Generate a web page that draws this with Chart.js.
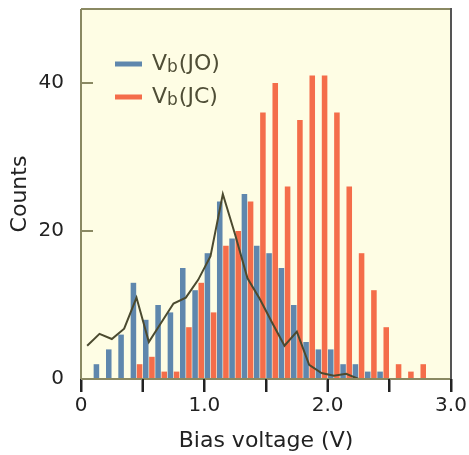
<!DOCTYPE html>
<html>
<head>
<meta charset="utf-8">
<script src="https://cdn.jsdelivr.net/npm/chart.js@4.4.0/dist/chart.umd.min.js"></script>
<style>
  html, body { margin: 0; padding: 0; background: #fff; }
  #wrap { width: 469px; height: 455px; }
</style>
</head>
<body>
<div id="wrap"><canvas id="myChart" width="469" height="455"></canvas></div>
<script>
// histogram bins, 0.1 V wide
const binCenters = [0.05, 0.15, 0.25, 0.35, 0.45, 0.55, 0.65, 0.75, 0.85, 0.95,
                    1.05, 1.15, 1.25, 1.35, 1.45, 1.55, 1.65, 1.75, 1.85, 1.95,
                    2.05, 2.15, 2.25, 2.35, 2.45, 2.55, 2.65, 2.75, 2.85, 2.95];
const joCounts = [0, 2, 4, 6, 13, 8, 10, 9, 15, 12,
                  17, 24, 19, 25, 18, 17, 15, 10, 5, 4,
                  4, 2, 2, 1, 1, 0, 0, 0, 0, 0];
const jcCounts = [0, 0, 0, 0, 2, 3, 1, 1, 7, 13,
                  9, 18, 20, 24, 36, 40, 26, 35, 41, 41,
                  36, 26, 17, 12, 7, 2, 1, 2, 0, 0];

// simulated distribution drawn as a line
const simX = [0.05, 0.15, 0.25, 0.35, 0.45, 0.55, 0.65, 0.75, 0.85, 0.95, 1.05, 1.15,
              1.25, 1.35, 1.45, 1.55, 1.65, 1.75, 1.85, 1.95, 2.05, 2.15, 2.25];
const simY = [4.5, 6.1, 5.4, 6.8, 11.0, 5.0, 7.6, 10.2, 11.0, 13.4, 16.6, 25.0,
              19.5, 13.6, 10.8, 7.6, 4.5, 6.4, 1.9, 0.8, 0.45, 0.7, 0];

const xTicks = [0, 0.5, 1.0, 1.5, 2.0, 2.5, 3.0];
const yTicks = [0, 20, 40];

const blue = "#5f87ad";
const red = "#f46d4a";
const olive = "#8a8962";
const fontFamily = "'DejaVu Sans', 'Liberation Sans', Arial, sans-serif";

const toPoints = (xs, ys) => xs.map((x, i) => ({ x: x, y: ys[i] }));

function drawFrame(ctx, a) {
  ctx.lineWidth = 2;
  ctx.strokeStyle = olive;
  ctx.beginPath();
  ctx.moveTo(a.left, a.top);
  ctx.lineTo(a.right, a.top);
  ctx.moveTo(a.left, a.top);
  ctx.lineTo(a.left, a.bottom);
  ctx.lineTo(a.right, a.bottom);
  ctx.stroke();
  ctx.strokeStyle = "#555";
  ctx.beginPath();
  ctx.moveTo(a.right, a.top - 1);
  ctx.lineTo(a.right, a.bottom + 1);
  ctx.stroke();
}

// plot background, frame, tick marks and the legend
const decorations = {
  id: "decorations",
  beforeDraw(chart) {
    const { ctx, chartArea: a } = chart;
    ctx.save();
    ctx.fillStyle = "#fefde4";
    ctx.fillRect(a.left, a.top, a.right - a.left, a.bottom - a.top);
    ctx.restore();
  },
  afterDraw(chart) {
    const ctx = chart.ctx;
    const a = chart.chartArea;
    const xs = chart.scales.x;
    const ys = chart.scales.y;
    ctx.save();
    drawFrame(ctx, a);

    // x ticks point down, y ticks point into the plot
    ctx.lineWidth = 2;
    ctx.strokeStyle = "#222";
    ctx.beginPath();
    for (const v of xTicks) {
      const x = Math.round(xs.getPixelForValue(v));
      ctx.moveTo(x, a.bottom);
      ctx.lineTo(x, a.bottom + 13);
    }
    ctx.stroke();
    ctx.strokeStyle = olive;
    ctx.beginPath();
    for (const v of yTicks) {
      const y = Math.round(ys.getPixelForValue(v));
      ctx.moveTo(a.left, y);
      ctx.lineTo(a.left + 12, y);
    }
    ctx.stroke();

    // legend with subscript b
    const items = [
      { color: blue, label: "(JO)", y: 64 },
      { color: red, label: "(JC)", y: 97 }
    ];
    items.forEach(it => {
      ctx.fillStyle = it.color;
      ctx.fillRect(115, it.y - 2.5, 27, 5);
      ctx.fillStyle = "#4f4e36";
      ctx.textBaseline = "middle";
      ctx.font = "22px " + fontFamily;
      let x = 152;
      ctx.fillText("V", x, it.y);
      x += ctx.measureText("V").width;
      ctx.font = "17px " + fontFamily;
      ctx.fillText("b", x, it.y + 4);
      x += ctx.measureText("b").width + 1;
      ctx.font = "22px " + fontFamily;
      ctx.fillText(it.label, x, it.y);
    });
    ctx.restore();
  }
};

const myChart = new Chart(document.getElementById("myChart"), {
  type: "bar",
  data: {
    datasets: [
      {
        type: "line",
        label: "sim",
        data: toPoints(simX, simY),
        borderColor: "#4b4a2f",
        borderWidth: 2,
        pointRadius: 0,
        tension: 0,
        fill: false
      },
      {
        label: "Vb(JO)",
        data: toPoints(binCenters, joCounts),
        backgroundColor: blue,
        borderWidth: 0,
        categoryPercentage: 1.0,
        barPercentage: 0.9
      },
      {
        label: "Vb(JC)",
        data: toPoints(binCenters, jcCounts),
        backgroundColor: red,
        borderWidth: 0,
        categoryPercentage: 1.0,
        barPercentage: 0.9
      }
    ]
  },
  options: {
    responsive: false,
    animation: false,
    layout: { padding: { top: 9, right: 18, left: 0, bottom: 0 } },
    plugins: {
      legend: { display: false },
      tooltip: { enabled: false }
    },
    scales: {
      x: {
        type: "linear",
        min: 0,
        max: 3,
        offset: false,
        afterFit: s => {
          s.height = 76;
          s.paddingLeft = 0;
          s.paddingRight = 0;
        },
        afterBuildTicks: s => { s.ticks = xTicks.map(v => ({ value: v })); },
        border: { display: false },
        grid: {
          offset: false,
          drawOnChartArea: false,
          drawTicks: true,
          tickLength: 13,
          tickWidth: 2,
          tickColor: "#222"
        },
        ticks: {
          autoSkip: false,
          maxRotation: 0,
          padding: 2,
          color: "#222",
          font: { family: fontFamily, size: 20 },
          callback: v => (v === 0 ? "0" : (v % 1 === 0 ? v.toFixed(1) : ""))
        },
        title: {
          display: true,
          text: "Bias voltage (V)",
          color: "#222",
          font: { family: fontFamily, size: 22 },
          padding: { top: 0, bottom: 1 }
        }
      },
      y: {
        min: 0,
        max: 50,
        afterFit: s => {
          s.width = 81;
          s.paddingTop = 0;
          s.paddingBottom = 0;
        },
        afterBuildTicks: s => { s.ticks = yTicks.map(v => ({ value: v })); },
        border: { display: false },
        grid: { display: false },
        ticks: {
          padding: 9,
          color: "#222",
          font: { family: fontFamily, size: 20 }
        },
        title: {
          display: true,
          text: "Counts",
          color: "#222",
          font: { family: fontFamily, size: 22 },
          padding: { top: 7, bottom: 0 }
        }
      }
    }
  },
  plugins: [decorations]
});
</script>
</body>
</html>
